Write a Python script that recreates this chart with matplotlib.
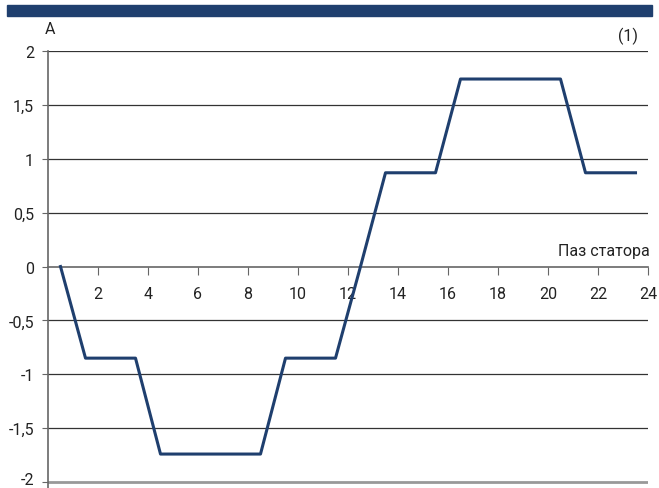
import matplotlib.pyplot as plt
import matplotlib.transforms as mtransforms

# ток в пазах статора (середина паза)
pazy = [0.5, 1.5, 2.5, 3.5, 4.5, 5.5, 6.5, 7.5, 8.5, 9.5, 10.5, 11.5,
        12.5, 13.5, 14.5, 15.5, 16.5, 17.5, 18.5, 19.5, 20.5, 21.5, 22.5, 23.5]
tok = [0, -0.85, -0.85, -0.85, -1.74, -1.74, -1.74, -1.74, -1.74, -0.85, -0.85, -0.85,
       0, 0.87, 0.87, 0.87, 1.74, 1.74, 1.74, 1.74, 1.74, 0.87, 0.87, 0.87]

xticks = [2, 4, 6, 8, 10, 12, 14, 16, 18, 20, 22, 24]
yticks = [-2, -1.5, -1, -0.5, 0, 0.5, 1, 1.5, 2]
ylabels = ["-2", "-1,5", "-1", "-0,5", "0", "0,5", "1", "1,5", "2"]

plt.rcParams['font.family'] = ['Roboto', 'DejaVu Sans']
plt.rcParams['font.size'] = 11.5

navy = "#1f3f6e"

fig = plt.figure(figsize=(6.59, 4.89), dpi=100)
# синяя полоса сверху
fig.patches.append(plt.Rectangle((7 / 659, 1 - 17 / 489), 645 / 659, 11 / 489,
                                 transform=fig.transFigure, color=navy, zorder=5))

ax = fig.add_axes([48 / 659, 0, 600 / 659, 437 / 489])
ax.set_xlim(0, 24)
ax.set_ylim(-2.055, 2)

for y in [-1.5, -1, -0.5, 0.5, 1, 1.5, 2]:
    ax.axhline(y, color="#333333", lw=0.9, zorder=1)
ax.axhline(-2, color="#999999", lw=2, zorder=1)

ax.plot(pazy, tok, color=navy, lw=2.2, zorder=3)

for s in ["top", "right"]:
    ax.spines[s].set_visible(False)
ax.spines["bottom"].set_position(("data", 0))
ax.spines["bottom"].set_color("#666666")
ax.spines["left"].set_color("#666666")
ax.spines["left"].set_linewidth(1.2)
ax.spines["bottom"].set_linewidth(1.2)

ax.set_xticks(xticks)
ax.set_xticklabels([str(t) for t in xticks])
ax.set_yticks(yticks)
ax.set_yticklabels(ylabels)
ax.tick_params(axis="x", direction="out", length=6, color="#666666", pad=8, labelcolor="#222222")
ax.tick_params(axis="y", direction="out", length=4, color="#666666", pad=6, labelcolor="#222222")

# подпись -2 чуть выше, чтобы не обрезалась снизу
lab = ax.get_yticklabels()[0]
lab.set_transform(lab.get_transform() + mtransforms.ScaledTranslation(0, 4 / 100, fig.dpi_scale_trans))

fig.text(50 / 659, 1 - 30 / 489, "A", ha="center", va="center", color="#222222", fontsize=11.5)
fig.text(628 / 659, 1 - 36 / 489, "(1)", ha="center", va="center", color="#222222", fontsize=11.5)
ax.text(24.05, 0.08, "Паз статора", ha="right", va="bottom", color="#222222", fontsize=11.5)

fig.savefig("out.png", dpi=100)
